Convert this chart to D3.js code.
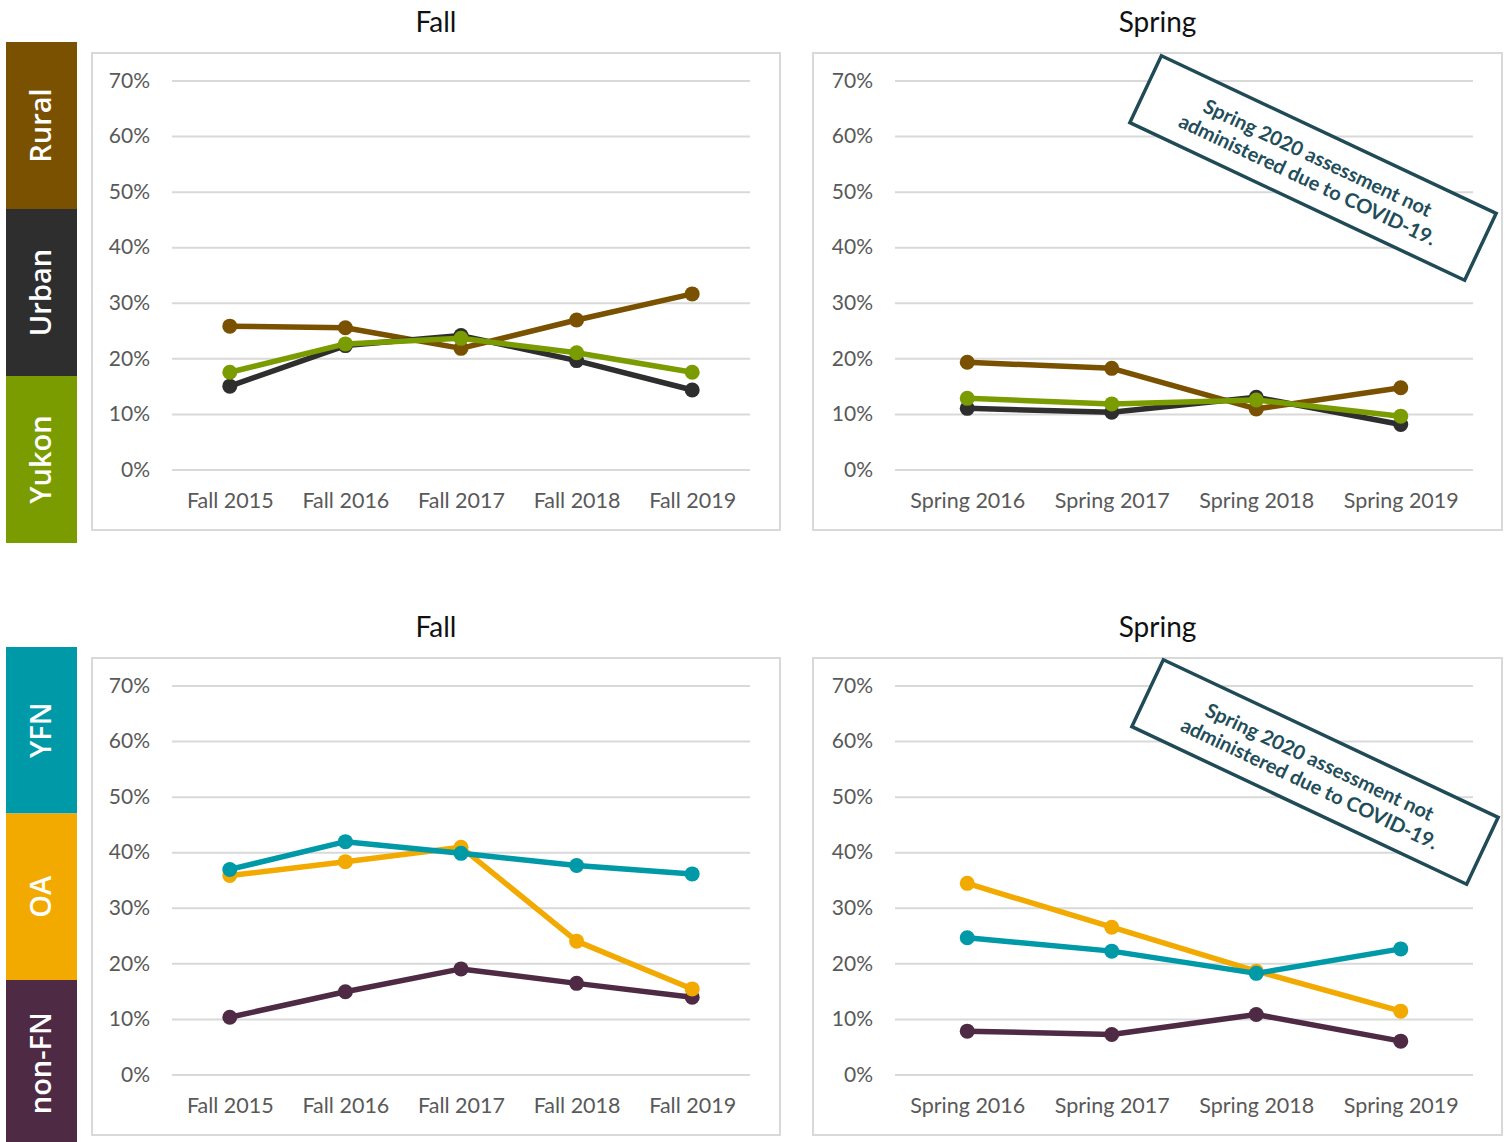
<!DOCTYPE html>
<html>
<head>
<meta charset="utf-8">
<script src="https://cdn.jsdelivr.net/npm/d3@7"></script>
<style>
  html, body { margin: 0; padding: 0; background: #fff; }
  svg { display: block; }
</style>
</head>
<body>
<svg id="chart" width="1507" height="1142"></svg>
<script>
// Categories
const fallTerms = ["Fall 2015", "Fall 2016", "Fall 2017", "Fall 2018", "Fall 2019"];
const springTerms = ["Spring 2016", "Spring 2017", "Spring 2018", "Spring 2019"];
const yTicks = [0, 10, 20, 30, 40, 50, 60, 70];

// Region groups (percent)
const ruralFall = [25.8, 25.5, 21.8, 26.9, 31.6];
const urbanFall = [15.0, 22.3, 24.1, 19.6, 14.3];
const yukonFall = [17.5, 22.6, 23.6, 21.0, 17.5];
const ruralSpring = [19.3, 18.2, 10.9, 14.7];
const urbanSpring = [11.0, 10.3, 13.0, 8.1];
const yukonSpring = [12.8, 11.8, 12.5, 9.6];

// Cultural groups (percent)
const nonFNFall = [10.3, 14.9, 19.0, 16.4, 13.9];
const oaFall = [35.8, 38.3, 40.9, 24.0, 15.4];
const yfnFall = [36.9, 41.9, 39.8, 37.6, 36.1];
const nonFNSpring = [7.8, 7.2, 10.8, 6.0];
const oaSpring = [34.4, 26.5, 18.6, 11.4];
const yfnSpring = [24.6, 22.2, 18.2, 22.6];

const regionLabels = ["Rural", "Urban", "Yukon"];
const cultureLabels = ["YFN", "OA", "non-FN"];
const noteLines = ["Spring 2020 assessment not", "administered due to COVID-19."];

const colors = {
  Rural: "#7a5100", Urban: "#2e2e2e", Yukon: "#7a9c01",
  YFN: "#0099a8", OA: "#f2aa00", "non-FN": "#4f2a45"
};

const svg = d3.select("#chart");
const FONT = "Lato, 'Open Sans', sans-serif";

function panel(opts) {
  const g = svg.append("g");
  // frame
  g.append("rect")
    .attr("x", opts.box[0]).attr("y", opts.box[1])
    .attr("width", opts.box[2]).attr("height", opts.box[3])
    .attr("fill", "#fff").attr("stroke", "#d9d9d9").attr("stroke-width", 2);
  // title
  g.append("text")
    .attr("x", opts.box[0] + opts.box[2] / 2).attr("y", opts.box[1] - 21)
    .attr("text-anchor", "middle")
    .attr("font-family", FONT).attr("font-size", 28).attr("fill", "#111")
    .text(opts.title);

  const x = d3.scalePoint().domain(opts.cats).range([opts.x0, opts.x1]).padding(0.5);
  const y = d3.scaleLinear().domain([0, 70]).range([opts.y0, opts.y1]);

  // gridlines + y labels
  const yAxis = d3.axisLeft(y).tickValues(yTicks).tickFormat(d => d + "%")
    .tickSize(-(opts.x1 - opts.x0)).tickPadding(22);
  const ya = g.append("g").attr("transform", `translate(${opts.x0},0)`).call(yAxis);
  ya.select(".domain").remove();
  ya.selectAll(".tick line").attr("stroke", "#d9d9d9").attr("stroke-width", 2);
  ya.selectAll(".tick text").attr("font-family", FONT).attr("font-size", 21)
    .attr("fill", "#595959");

  // x labels
  const xAxis = d3.axisBottom(x).tickSize(0).tickPadding(23);
  const xa = g.append("g").attr("transform", `translate(0,${opts.y0})`).call(xAxis);
  xa.select(".domain").remove();
  xa.selectAll(".tick text").attr("font-family", FONT).attr("font-size", 21.5)
    .attr("fill", "#595959");

  const line = d3.line().x((d, i) => x(opts.cats[i])).y(d => y(d));
  opts.series.forEach(s => {
    g.append("path").datum(s.values)
      .attr("d", line).attr("fill", "none")
      .attr("stroke", colors[s.name]).attr("stroke-width", 5.5)
      .attr("stroke-linejoin", "round");
    g.selectAll(null).data(s.values).enter().append("circle")
      .attr("cx", (d, i) => x(opts.cats[i])).attr("cy", d => y(d))
      .attr("r", 7.5).attr("fill", colors[s.name]);
  });

  if (opts.note) {
    const n = g.append("g")
      .attr("transform", `translate(${opts.note[0]},${opts.note[1]}) rotate(25.2)`);
    n.append("rect").attr("x", -185).attr("y", -37).attr("width", 370).attr("height", 74)
      .attr("fill", "#fff").attr("stroke", "#1f4a56").attr("stroke-width", 3.5);
    n.selectAll("text").data(noteLines).enter().append("text")
      .attr("x", 0).attr("y", (d, i) => i * 24 - 4)
      .attr("text-anchor", "middle")
      .attr("font-family", FONT).attr("font-weight", 700).attr("font-size", 20)
      .attr("fill", "#1f4e5a")
      .text(d => d);
  }
}

// side category blocks
function sideBlocks(labels, top, h) {
  labels.forEach((lab, i) => {
    const y0 = top + i * h;
    svg.append("rect").attr("x", 6).attr("y", y0).attr("width", 71).attr("height", h)
      .attr("fill", colors[lab]);
    svg.append("text")
      .attr("transform", `translate(51,${y0 + h / 2}) rotate(-90)`)
      .attr("text-anchor", "middle")
      .attr("font-family", "'Open Sans', sans-serif").attr("font-size", 29)
      .attr("font-weight", 600)
      .attr("fill", "#fff").text(lab);
  });
}

sideBlocks(regionLabels, 42, 167);
sideBlocks(cultureLabels, 647, 166.5);

panel({
  title: "Fall", box: [92, 53, 688, 477], cats: fallTerms,
  x0: 172, x1: 750, y0: 469.5, y1: 80.5,
  series: [
    { name: "Rural", values: ruralFall },
    { name: "Urban", values: urbanFall },
    { name: "Yukon", values: yukonFall }
  ]
});
panel({
  title: "Spring", box: [813, 53, 689, 477], cats: springTerms,
  x0: 895, x1: 1473, y0: 469.5, y1: 80.5,
  series: [
    { name: "Rural", values: ruralSpring },
    { name: "Urban", values: urbanSpring },
    { name: "Yukon", values: yukonSpring }
  ],
  note: [1313, 168]
});
panel({
  title: "Fall", box: [92, 658, 688, 477], cats: fallTerms,
  x0: 172, x1: 750, y0: 1074.5, y1: 685.5,
  series: [
    { name: "non-FN", values: nonFNFall },
    { name: "OA", values: oaFall },
    { name: "YFN", values: yfnFall }
  ]
});
panel({
  title: "Spring", box: [813, 658, 689, 477], cats: springTerms,
  x0: 895, x1: 1473, y0: 1074.5, y1: 685.5,
  series: [
    { name: "non-FN", values: nonFNSpring },
    { name: "OA", values: oaSpring },
    { name: "YFN", values: yfnSpring }
  ],
  note: [1315, 772]
});
</script>
</body>
</html>
